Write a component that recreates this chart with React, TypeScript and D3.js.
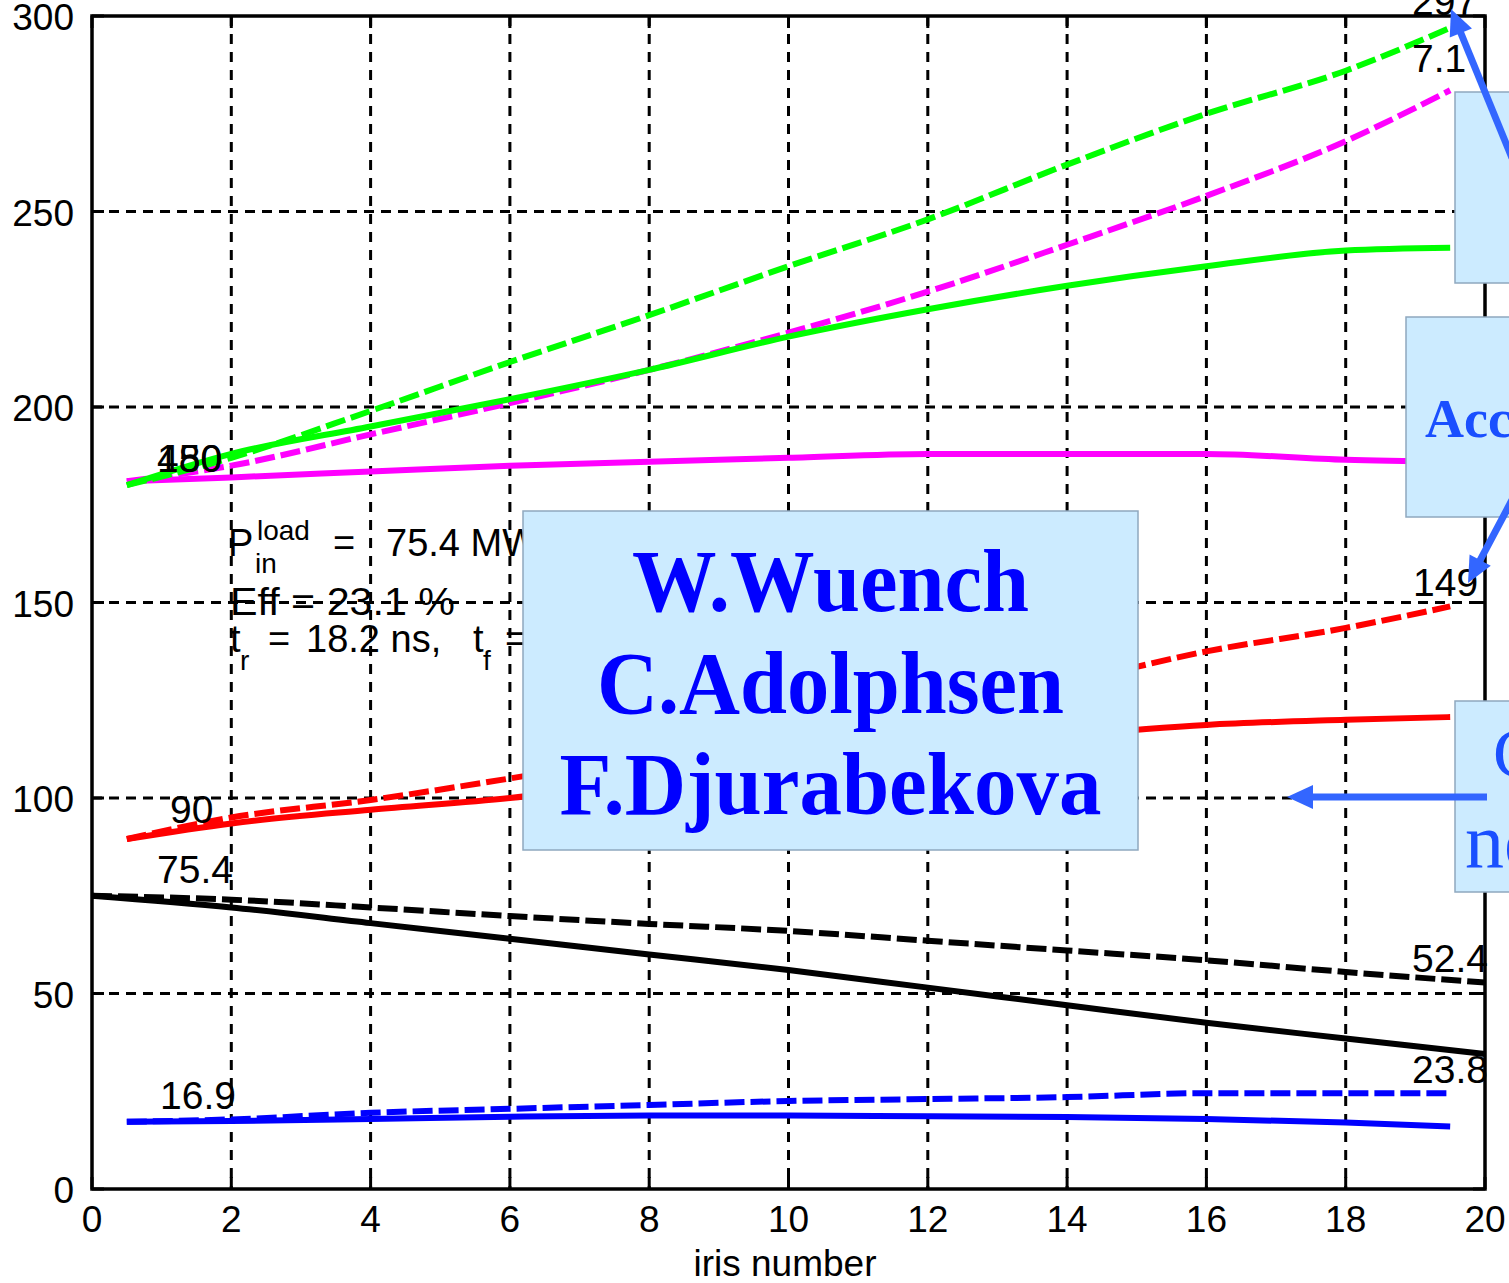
import React from "react";
import * as d3 from "d3";

// ---- data ----
const IRIS = [0.5, 2, 4, 6, 8, 10, 12, 14, 16, 18, 19.5];
const FULL_X = [0, 2, 4, 6, 8, 10, 12, 14, 16, 18, 20];

const GREEN_DASHED = [180, 187, 199, 211.5, 223.5, 236, 248, 262, 275, 286, 297];
const GREEN_SOLID = [180, 188, 195, 202, 209.5, 218, 225, 231, 236, 240, 240.7];
const MAGENTA_DASHED = [181, 185, 193, 201, 209.5, 219, 229.5, 241.5, 254, 268, 281];
const MAGENTA_SOLID = [181, 182, 183.5, 185, 186, 187, 188, 188, 188, 186.5, 186];
const RED_DASHED = [89.5, 95, 99.5, 105, 111, 117, 123, 129.5, 137.5, 143.5, 149];
const RED_SOLID = [89.5, 93.5, 97, 100, 104.5, 109, 112.5, 116, 118.7, 120, 120.7];
const BLACK_DASHED = [75, 74, 72, 69.8, 67.8, 66, 63.5, 61, 58.5, 55.5, 52.8];
const BLACK_SOLID = [75, 72, 68, 64, 60, 56, 51.5, 47, 42.5, 38.5, 34.5];
const BLUE_DASHED = [17.2, 17.8, 19.5, 20.5, 21.5, 22.5, 23, 23.5, 24.5, 24.5, 24.5];
const BLUE_SOLID = [17.2, 17.4, 17.9, 18.5, 18.8, 18.8, 18.6, 18.4, 17.9, 17, 16];

const X_TICKS = [0, 2, 4, 6, 8, 10, 12, 14, 16, 18, 20];
const Y_TICKS = [0, 50, 100, 150, 200, 250, 300];
const AUTHORS = ["W.Wuench", "C.Adolphsen", "F.Djurabekova"];

const W = 1509;
const H = 1283;
const SANS = "'Liberation Sans', Arial, sans-serif";
const SERIF = "'Liberation Serif', 'Times New Roman', serif";
const ARROW = "#3366FF";
const BOX_FILL = "#CCEBFF";
const BOX_STROKE = "#8FA8BF";

type Series = { x: number[]; y: number[]; color: string; dashed: boolean };
const SERIES: Series[] = [
  { x: FULL_X, y: BLACK_DASHED, color: "#000000", dashed: true },
  { x: FULL_X, y: BLACK_SOLID, color: "#000000", dashed: false },
  { x: IRIS, y: BLUE_DASHED, color: "#0000FF", dashed: true },
  { x: IRIS, y: BLUE_SOLID, color: "#0000FF", dashed: false },
  { x: IRIS, y: RED_DASHED, color: "#FF0000", dashed: true },
  { x: IRIS, y: RED_SOLID, color: "#FF0000", dashed: false },
  { x: IRIS, y: MAGENTA_SOLID, color: "#FF00FF", dashed: false },
  { x: IRIS, y: MAGENTA_DASHED, color: "#FF00FF", dashed: true },
  { x: IRIS, y: GREEN_SOLID, color: "#00FF00", dashed: false },
  { x: IRIS, y: GREEN_DASHED, color: "#00FF00", dashed: true },
];

function Arrow({ x1, y1, x2, y2 }: { x1: number; y1: number; x2: number; y2: number }) {
  const dx = x2 - x1;
  const dy = y2 - y1;
  const len = Math.hypot(dx, dy);
  const ux = dx / len;
  const uy = dy / len;
  const L = 26;
  const hw = 12;
  const bx = x2 - ux * L;
  const by = y2 - uy * L;
  const px = -uy;
  const py = ux;
  return (
    <g>
      <line x1={x1} y1={y1} x2={bx + ux * 2} y2={by + uy * 2} stroke={ARROW} strokeWidth={7} />
      <polygon
        points={`${x2},${y2} ${bx + px * hw},${by + py * hw} ${bx - px * hw},${by - py * hw}`}
        fill={ARROW}
      />
    </g>
  );
}

export default function App() {
  const x = d3.scaleLinear().domain([0, 20]).range([92, 1485]);
  const y = d3.scaleLinear().domain([0, 300]).range([1189, 16]);
  const [x0, x1] = x.range();
  const [y0, y1] = y.range();

  const lineGen = (s: Series) =>
    d3
      .line<number>()
      .x((_, i) => x(s.x[i]))
      .y((v) => y(v))
      .curve(d3.curveMonotoneX)(s.y) || "";

  const fs = 37;

  return (
    <svg
      width={W}
      height={H}
      style={{ position: "absolute", left: 0, top: 0, background: "#fff" }}
      fontFamily={SANS}
    >
      <rect x={0} y={0} width={W} height={H} fill="#fff" />
      {/* grid */}
      {X_TICKS.slice(1, -1).map((t) => (
        <line key={"gx" + t} x1={x(t)} x2={x(t)} y1={y1} y2={y0} stroke="#000" strokeWidth={3} strokeDasharray="10,8" />
      ))}
      {Y_TICKS.slice(1, -1).map((t) => (
        <line key={"gy" + t} x1={x0} x2={x1} y1={y(t)} y2={y(t)} stroke="#000" strokeWidth={3} strokeDasharray="10,7" />
      ))}
      {/* ticks */}
      {X_TICKS.map((t) => (
        <g key={"tx" + t}>
          <line x1={x(t)} x2={x(t)} y1={y0} y2={y0 - 12} stroke="#000" strokeWidth={3} />
          <line x1={x(t)} x2={x(t)} y1={y1} y2={y1 + 12} stroke="#000" strokeWidth={3} />
        </g>
      ))}
      {Y_TICKS.map((t) => (
        <g key={"ty" + t}>
          <line x1={x0} x2={x0 + 12} y1={y(t)} y2={y(t)} stroke="#000" strokeWidth={3} />
          <line x1={x1} x2={x1 - 12} y1={y(t)} y2={y(t)} stroke="#000" strokeWidth={3} />
        </g>
      ))}

      {/* series */}
      {SERIES.map((s, i) => (
        <path
          key={"s" + i}
          d={lineGen(s)}
          fill="none"
          stroke={s.color}
          strokeWidth={6}
          strokeDasharray={s.dashed ? "20,6" : undefined}
        />
      ))}

      {/* frame */}
      <rect x={x0} y={y1} width={x1 - x0} height={y0 - y1} fill="none" stroke="#000" strokeWidth={3.5} />

      {/* tick labels */}
      {X_TICKS.map((t) => (
        <text key={"lx" + t} x={x(t)} y={1232} fontSize={fs} textAnchor="middle" fill="#000">
          {t}
        </text>
      ))}
      {Y_TICKS.map((t) => (
        <text key={"ly" + t} x={74} y={y(t) + 14} fontSize={fs} textAnchor="end" fill="#000">
          {t}
        </text>
      ))}
      <text x={785} y={1276} fontSize={fs} textAnchor="middle" fill="#000">
        iris number
      </text>

      {/* value annotations */}
      <g fontSize={39} fill="#000">
        <text x={157} y={472}>180</text>
        <text x={157} y={472}>450</text>
        <text x={170} y={823}>90</text>
        <text x={157} y={883}>75.4</text>
        <text x={160} y={1109}>16.9</text>
        <text x={1412} y={15}>297</text>
        <text x={1412} y={72}>7.1</text>
        <text x={1413} y={596}>149</text>
        <text x={1412} y={972}>52.4</text>
        <text x={1412} y={1083}>23.8</text>
      </g>

      {/* parameter text block */}
      <g fill="#000" fontSize={38}>
        <text x={228} y={556}>P</text>
        <text x={257} y={540} fontSize={28}>load</text>
        <text x={255} y={573} fontSize={28}>in</text>
        <text x={333} y={556}>=</text>
        <text x={386} y={556}>75.4 MW</text>
        <text x={230} y={615} textLength={225} lengthAdjust="spacingAndGlyphs">Eff = 23.1 %</text>
        <text x={230} y={652}>t</text>
        <text x={240} y={670} fontSize={28}>r</text>
        <text x={268} y={652}>=</text>
        <text x={306} y={652}>18.2 ns,</text>
        <text x={473} y={652}>t</text>
        <text x={483} y={670} fontSize={28}>f</text>
        <text x={505} y={652}>= 16.2 ns</text>
      </g>

      {/* authors box */}
      <rect x={523} y={511} width={615} height={339} fill={BOX_FILL} stroke={BOX_STROKE} strokeWidth={1.5} />
      {AUTHORS.map((a, i) => {
        const widths = [397, 467, 542];
        return (
          <text
            key={a}
            x={830.5 - widths[i] / 2}
            y={611 + i * 101.5}
            fontFamily={SERIF}
            fontWeight="bold"
            fontSize={88}
            fill="#0000FF"
            textLength={widths[i]}
            lengthAdjust="spacingAndGlyphs"
          >
            {a}
          </text>
        );
      })}

      {/* right-side annotation boxes */}
      <rect x={1455} y={92} width={100} height={191} fill={BOX_FILL} stroke={BOX_STROKE} strokeWidth={1.5} />
      <rect x={1406} y={317} width={150} height={200} fill={BOX_FILL} stroke={BOX_STROKE} strokeWidth={1.5} />
      <text x={1425} y={437} fontFamily={SERIF} fontWeight="bold" fontSize={54} fill="#1A4FFF">
        Accelerating
      </text>
      <rect x={1455} y={701} width={100} height={191} fill={BOX_FILL} stroke={BOX_STROKE} strokeWidth={1.5} />
      <text x={1493} y={777} fontFamily={SERIF} fontSize={70} fill="#1A4FFF">
        C
      </text>
      <text x={1465} y={868} fontFamily={SERIF} fontSize={78} fill="#1A4FFF">
        no
      </text>

      {/* arrows */}
      <Arrow x1={1512} y1={158} x2={1451} y2={9} />
      <Arrow x1={1512} y1={500} x2={1468} y2={583} />
      <Arrow x1={1487} y1={797} x2={1287} y2={797} />
    </svg>
  );
}
